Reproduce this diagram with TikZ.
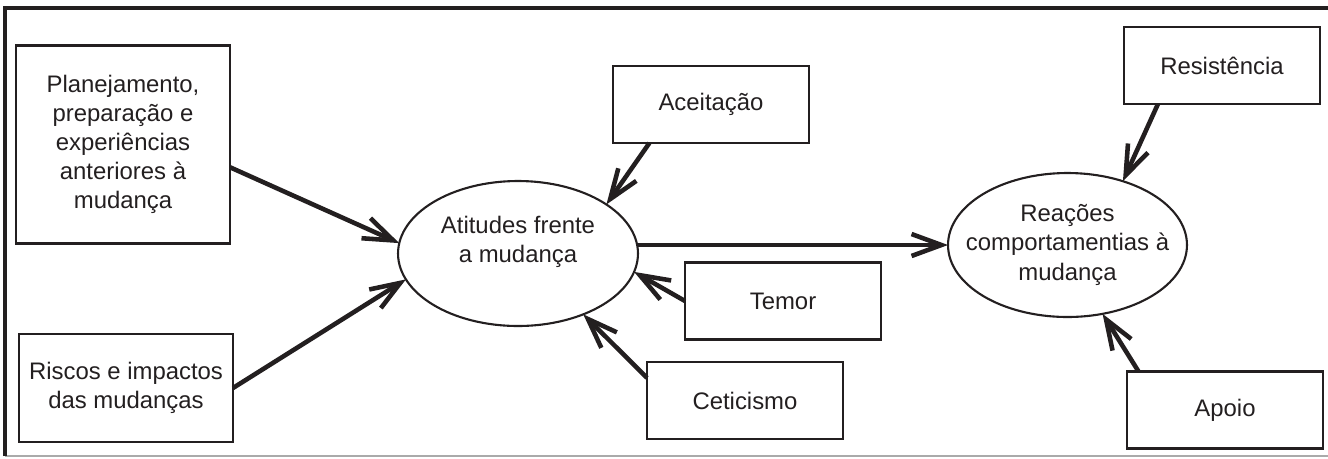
\documentclass[tikz,border=0pt]{standalone}
\usepackage{fontspec}
\setmainfont{Liberation Sans}
\usetikzlibrary{arrows.meta,shapes.geometric}
\definecolor{ink}{RGB}{35,31,32}
\definecolor{rule}{RGB}{170,170,170}
\tikzset{
  box/.style={draw=ink, line width=1.2pt, rectangle, inner sep=0pt, outer sep=0pt,
    align=center, text=ink, font=\fontsize{13.6pt}{16.6pt}\selectfont},
  smallbox/.style={box, minimum width=3.92cm, minimum height=1.54cm},
  oval/.style={draw=ink, line width=1.2pt, ellipse, inner sep=0pt, outer sep=0pt,
    align=center, text=ink, font=\fontsize{13.6pt}{16.6pt}\selectfont,
    minimum width=4.8cm, minimum height=2.9cm},
  link/.style={draw=ink, line width=2.6pt, -{Straight Barb[length=17pt, width=12.5pt]}},
}
\begin{document}
\begin{tikzpicture}[x=0.02cm, y=-0.02cm]
\useasboundingbox (0,0) rectangle (1328,458);
% frame
\draw[rule, line width=0.8pt] (5,456) -- (1328,456);
\draw[ink, line width=1.8pt] (5,456) -- (5,8) -- (1328,8);
% nodes
\node[box, minimum width=4.28cm, minimum height=3.96cm] (plan) at (123,144.5)
  {Planejamento,\\preparação e\\experiências\\anteriores à\\mudança};
\node[box, minimum width=4.28cm, minimum height=2.16cm] (risk) at (126,388)
  {Riscos e impactos\\das mudanças};
\node[oval] (att) at (518,253.5) {Atitudes frente\\a mudança\\\mbox{}};
\node[smallbox] (acc) at (711,104.5) {Aceitação};
\node[smallbox] (fear) at (783,301) {Temor};
\node[smallbox] (skep) at (745,400.5) {Ceticismo};
\node[oval, minimum width=4.78cm, minimum height=2.88cm] (reac) at (1067.5,245)
  {\makebox[0pt]{\begin{tabular}{@{}c@{}}Reações\\comportamentias à\\mudança\end{tabular}}};
\node[smallbox] (res) at (1222,65.5) {Resistência};
\node[smallbox] (sup) at (1225,410) {Apoio};
% connectors
\draw[link] (plan.-12.4) -- (att.175);
\draw[link] (risk.east) -- (att.193);
\draw[link] (acc.-148.2) -- (att.29);
\draw[link] (fear.west) -- (att.-9.7);
\draw[link] (skep.167.6) -- (att.-43.9);
\draw[link] (att.east |- reac.west) -- (reac.west);
\draw[link] (res.-149) -- (reac.49.9);
\draw[link] (sup.156.6) -- (reac.-63.8);
\end{tikzpicture}
\end{document}
